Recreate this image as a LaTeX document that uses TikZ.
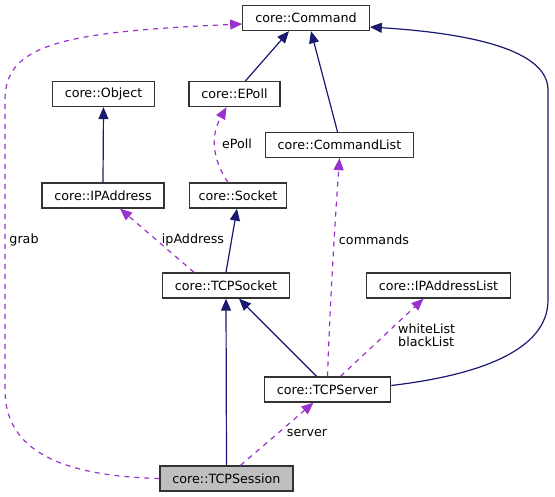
\documentclass[tikz,border=0pt]{standalone}
\usepackage{fontspec}
\setmainfont{DejaVu Sans}
\usetikzlibrary{arrows.meta,positioning}
\definecolor{inherit}{RGB}{25,25,112}
\definecolor{usage}{RGB}{154,50,205}
\definecolor{current}{RGB}{191,191,191}

\begin{document}
\begin{tikzpicture}
[x=1pt,y=-1pt,
 cls/.style={draw=black!80,fill=white,line width=1.3pt,inner xsep=12.5pt,inner ysep=0pt,minimum height=25pt,font=\fontsize{12.7}{15}\selectfont},
 base/.style={draw=inherit,line width=1.2pt,-{Triangle[length=12pt,width=10pt]}},
 uses/.style={draw=usage,line width=1.2pt,dash pattern=on 5pt off 5pt,arrows={-{Triangle[length=12pt,width=10pt,fill=usage]}}},
 lbl/.style={font=\fontsize{12.7}{15}\selectfont,inner sep=0pt,align=left}]
\useasboundingbox (0,0) rectangle (555,497);
\node[cls] (command) at (306,18) {core::Command};
\node[cls] (object) at (103.5,94) {core::Object};
\node[cls] (epoll) at (234.5,94) {core::EPoll};
\node[cls] (cmdlist) at (339.5,145) {core::CommandList};
\node[cls] (ipaddress) at (103,195.5) {core::IPAddress};
\node[cls,inner xsep=9pt] (socket) at (238,195.5) {core::Socket};
\node[cls] (tcpsocket) at (226,285.5) {core::TCPSocket};
\node[cls] (iplist) at (438.5,285.5) {core::IPAddressList};
\node[cls] (tcpserver) at (327.5,389.5) {core::TCPServer};
\node[cls,fill=current] (tcpsession) at (226.5,478.5) {core::TCPSession};

\node[lbl] (l-grab) at (24,240) {grab};
\node[lbl] (l-epoll) at (237,144) {ePoll};
\node[lbl] (l-ip) at (193,240) {ipAddress};
\node[lbl] (l-cmds) at (374,240) {commands};
\node[lbl,anchor=west] (l-lists) at (398,335.5) {whiteList\\[-2.5pt]blackList};
\node[lbl] (l-server) at (307,433) {server};

\draw [base] ([xshift=11pt]epoll.north) -- ([xshift=-17pt]command.south);
\draw [base] ([xshift=-2pt]cmdlist.north) -- ([xshift=5pt]command.south);
\draw [base] (ipaddress.north) -- (object.south);
\draw [base] (tcpsocket.north) -- ([xshift=-1pt]socket.south);
\draw [base] (tcpsession.north) -- (tcpsocket.south);
\draw [base] ([xshift=-11pt]tcpserver.north) -- ([xshift=13pt]tcpsocket.south);
\draw [base] ([yshift=4pt]tcpserver.east) .. controls (480,375) and (548,350) .. (548,300)
  -- (548,90) .. controls (548,45) and (450,32) .. ([yshift=-9pt]command.east);

\draw [uses] ([xshift=-10pt]socket.north) .. controls (216,165) and (208,140) .. ([xshift=-8pt]epoll.south);
\draw [uses] ([xshift=-32pt]tcpsocket.north) -- ([xshift=17pt]ipaddress.south);
\draw [uses] (tcpserver.north) .. controls (329,330) and (333,250) .. (cmdlist.south);
\draw [uses] ([xshift=13pt]tcpserver.north) -- ([xshift=-15pt]iplist.south);
\draw [uses] ([xshift=14pt]tcpsession.north) -- ([xshift=-14pt]tcpserver.south);
\draw [uses] (tcpsession.west) .. controls (60,476) and (5,450) .. (5,390)
  -- (5,100) .. controls (5,45) and (60,32) .. ([yshift=-6pt]command.west);
\end{tikzpicture}
\end{document}
